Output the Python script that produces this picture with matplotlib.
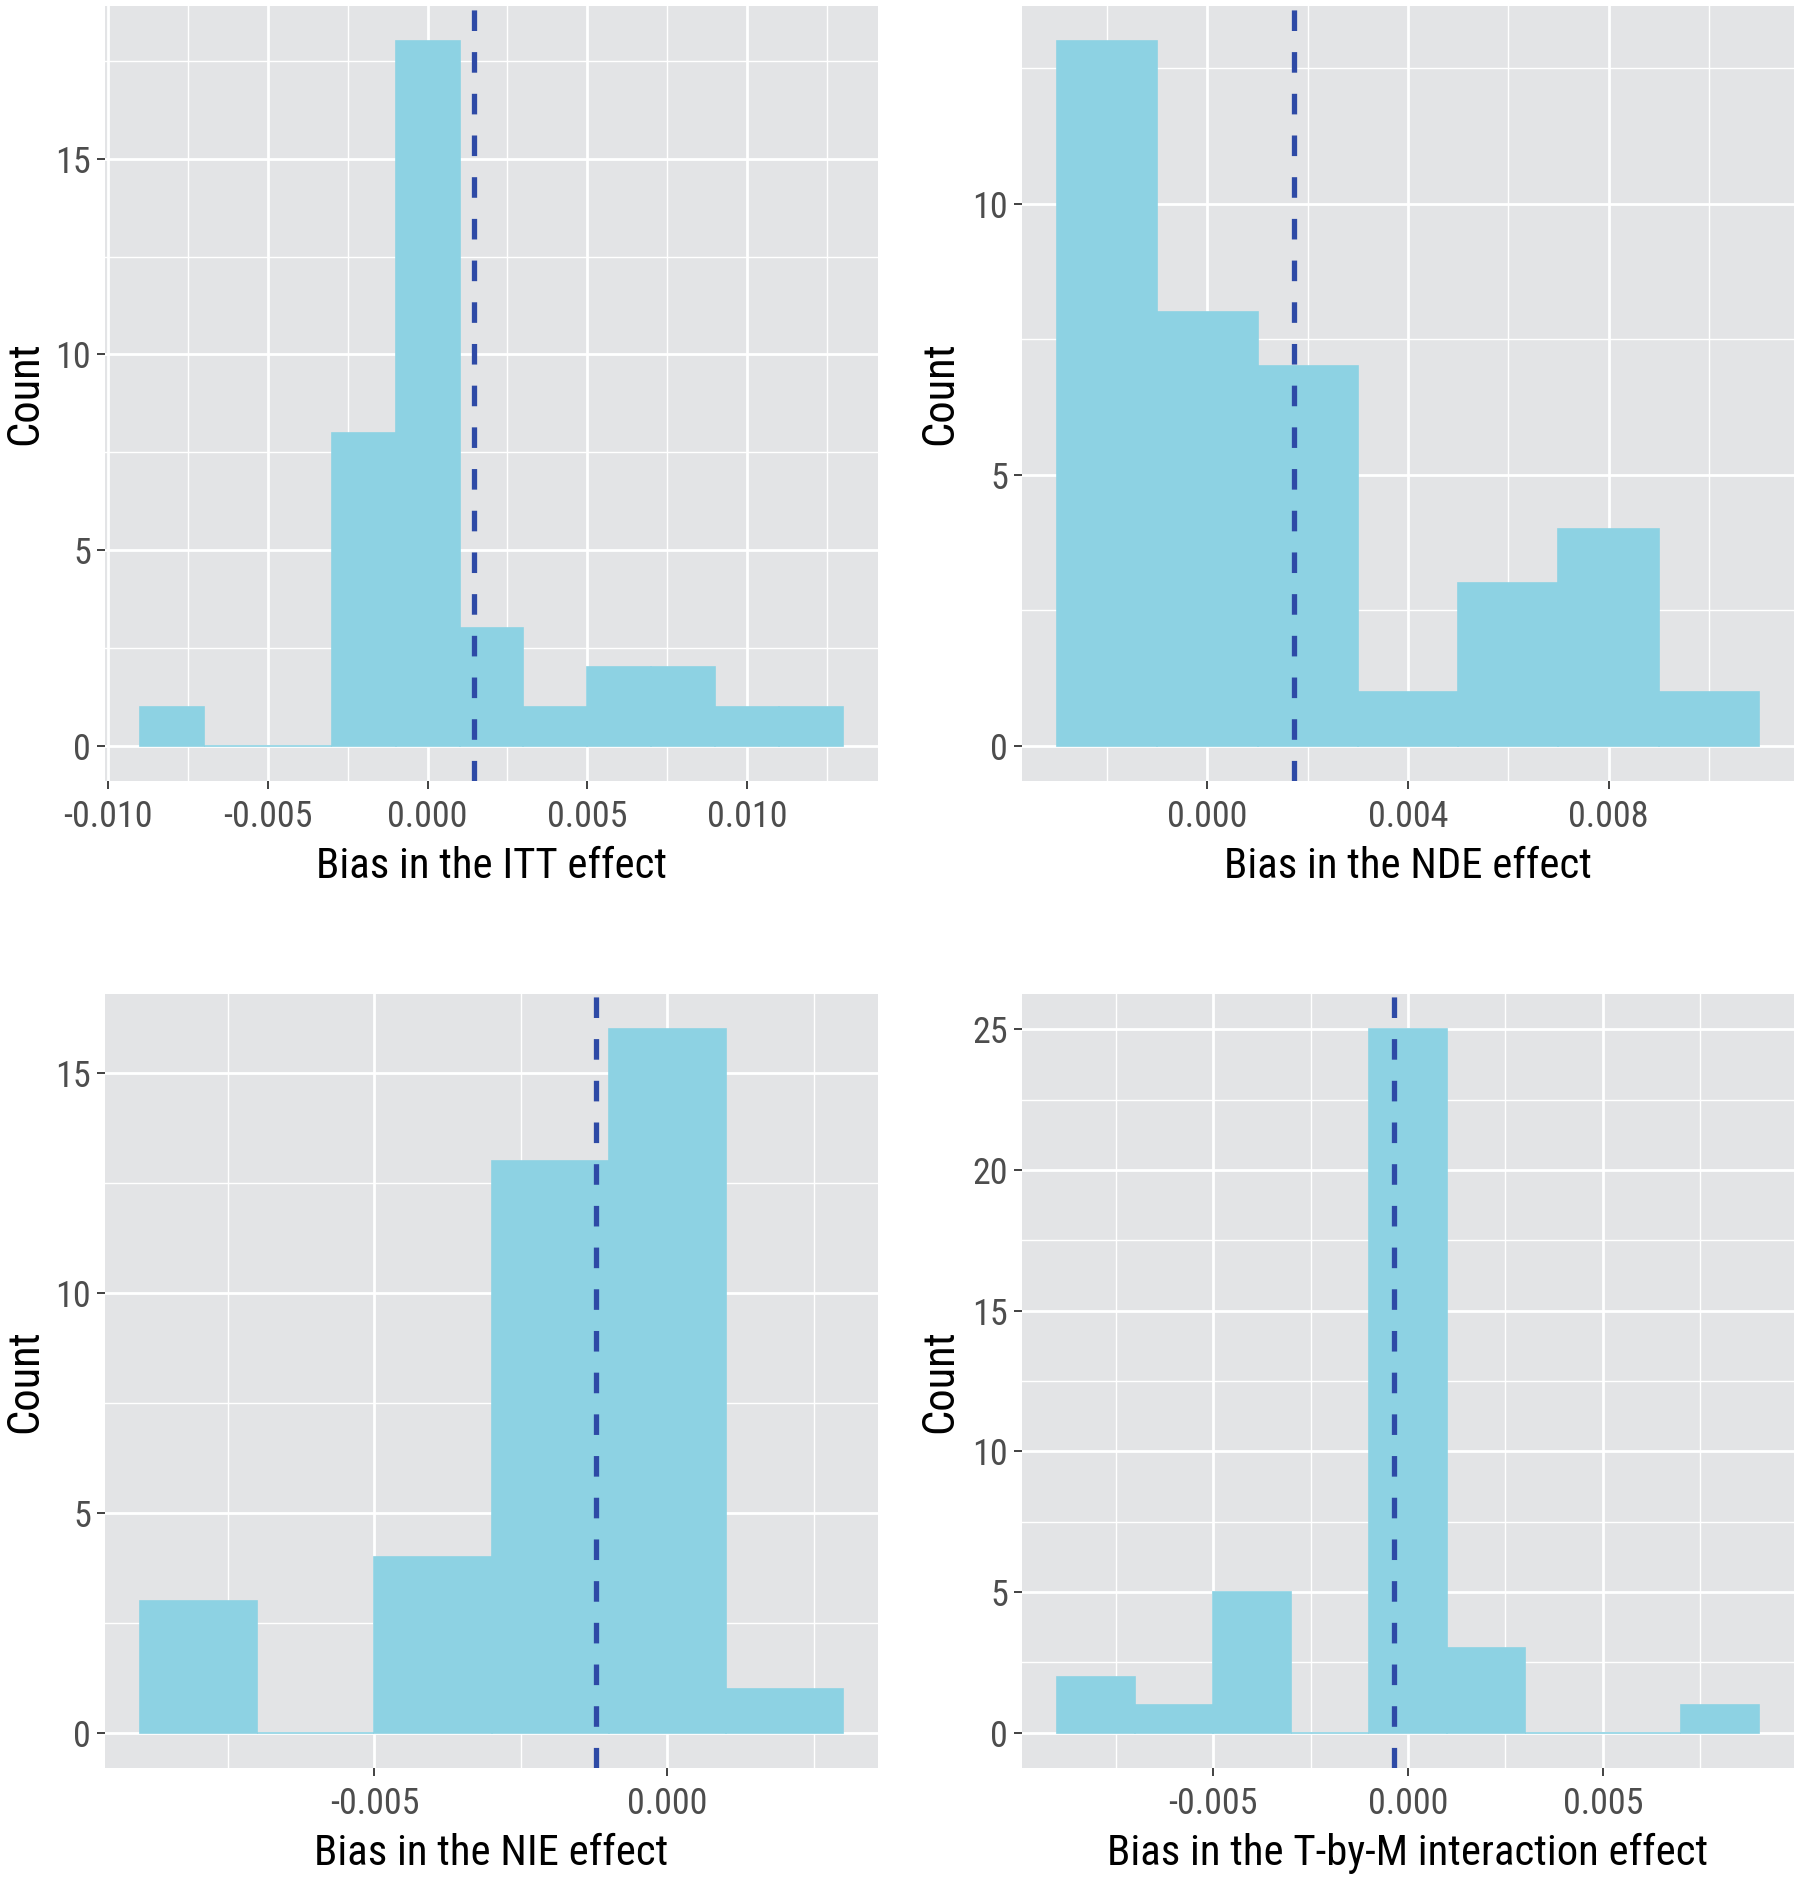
import numpy as np
import matplotlib.pyplot as plt
from matplotlib import font_manager
from matplotlib.ticker import MultipleLocator, FixedLocator

# the reference uses a narrow Arial-like face; take a condensed one when installed
installed = {f.name for f in font_manager.fontManager.ttflist}
narrow = None
for name in ['Liberation Sans Narrow', 'Arial Narrow', 'Roboto Condensed', 'Open Sans Condensed']:
    if name in installed:
        narrow = name
        break
if narrow:
    plt.rcParams['font.family'] = [narrow, 'Liberation Sans', 'DejaVu Sans']
    tick_size, title_size, count_size = 26.0, 30.8, 32.0
else:
    plt.rcParams['font.family'] = ['Liberation Sans', 'DejaVu Sans']
    tick_size, title_size, count_size = 23.5, 28.5, 28.5

# ---- data: histogram bins (binwidth 0.002) and counts, mean bias line ----
itt_edges = [-0.009, -0.007, -0.005, -0.003, -0.001, 0.001, 0.003, 0.005, 0.007, 0.009, 0.011, 0.013]
itt_counts = [1, 0, 0, 8, 18, 3, 1, 2, 2, 1, 1]
itt_mean = 0.00146

nde_edges = [-0.003, -0.001, 0.001, 0.003, 0.005, 0.007, 0.009, 0.011]
nde_counts = [13, 8, 7, 1, 3, 4, 1]
nde_mean = 0.00172

nie_edges = [-0.009, -0.007, -0.005, -0.003, -0.001, 0.001, 0.003]
nie_counts = [3, 0, 4, 13, 16, 1]
nie_mean = -0.00122

tbm_edges = [-0.009, -0.007, -0.005, -0.003, -0.001, 0.001, 0.003, 0.005, 0.007, 0.009]
tbm_counts = [2, 1, 5, 0, 25, 3, 0, 0, 1]
tbm_mean = -0.00037

titles = ["Bias in the ITT effect", "Bias in the NDE effect",
          "Bias in the NIE effect", "Bias in the T-by-M interaction effect"]
x_majors = [[-0.010, -0.005, 0.000, 0.005, 0.010],
            [0.000, 0.004, 0.008],
            [-0.005, 0.000],
            [-0.005, 0.000, 0.005]]
y_step = [5, 5, 5, 5]

panels = [(itt_edges, itt_counts, itt_mean),
          (nde_edges, nde_counts, nde_mean),
          (nie_edges, nie_counts, nie_mean),
          (tbm_edges, tbm_counts, tbm_mean)]

W, H = 1800, 1878
fig = plt.figure(figsize=(W / 100, H / 100), dpi=100)

# panel boxes in pixels (left, top, right, bottom)
boxes = [(105, 6, 878, 781), (1022, 6, 1794, 781),
         (105, 994, 878, 1768), (1022, 994, 1794, 1768)]
count_x = [25, 940, 25, 940]   # centre of the "Count" label, px

BG = '#E3E4E6'
FILL = '#8DD2E3'
LINE = '#2E4AA6'

for i, ((edges, counts, mean), box) in enumerate(zip(panels, boxes)):
    l, t, r, b = box
    ax = fig.add_axes([l / W, 1 - b / H, (r - l) / W, (b - t) / H])
    ax.set_facecolor(BG)
    for s in ax.spines.values():
        s.set_visible(False)

    edges = np.array(edges)
    widths = np.diff(edges)
    ax.bar(edges[:-1], counts, width=widths, align='edge', color=FILL,
           edgecolor=FILL, linewidth=1.2, zorder=2)
    ax.axvline(mean, color=LINE, linewidth=3.8, linestyle=(0, (3.9, 4.0)), zorder=3)

    # ggplot-like expansion of 5%
    xr = edges[-1] - edges[0]
    ax.set_xlim(edges[0] - 0.05 * xr, edges[-1] + 0.05 * xr)
    ym = max(counts)
    ax.set_ylim(-0.05 * ym, ym * 1.05)

    majors = x_majors[i]
    step = majors[1] - majors[0]
    ax.xaxis.set_major_locator(FixedLocator(majors))
    ax.xaxis.set_minor_locator(MultipleLocator(step / 2))
    ax.set_xticklabels([f"{v:.3f}" for v in majors])
    ax.yaxis.set_major_locator(MultipleLocator(y_step[i]))
    ax.yaxis.set_minor_locator(MultipleLocator(y_step[i] / 2))

    ax.grid(which='major', color='white', linewidth=2.0, zorder=0)
    ax.grid(which='minor', color='white', linewidth=1.0, zorder=0)
    ax.set_axisbelow(True)

    ax.tick_params(which='major', length=5.8, width=1.3, color='#333333',
                   labelcolor='#4D4D4D', labelsize=tick_size)
    ax.tick_params(axis='x', which='major', pad=7.5)
    ax.tick_params(axis='y', which='major', pad=4.3)
    ax.tick_params(which='minor', length=0)

    ax.set_xlabel(titles[i], fontsize=title_size, color='black')
    ax.xaxis.set_label_coords(0.5, -97 / (b - t))
    ax.xaxis.label.set_verticalalignment('baseline')
    ax.set_ylabel("Count", fontsize=count_size, color='black')
    ax.yaxis.set_label_coords((count_x[i] - l) / (r - l), 0.5)
    ax.yaxis.label.set_verticalalignment('center')

fig.savefig("out.png", dpi=100, facecolor='white')
